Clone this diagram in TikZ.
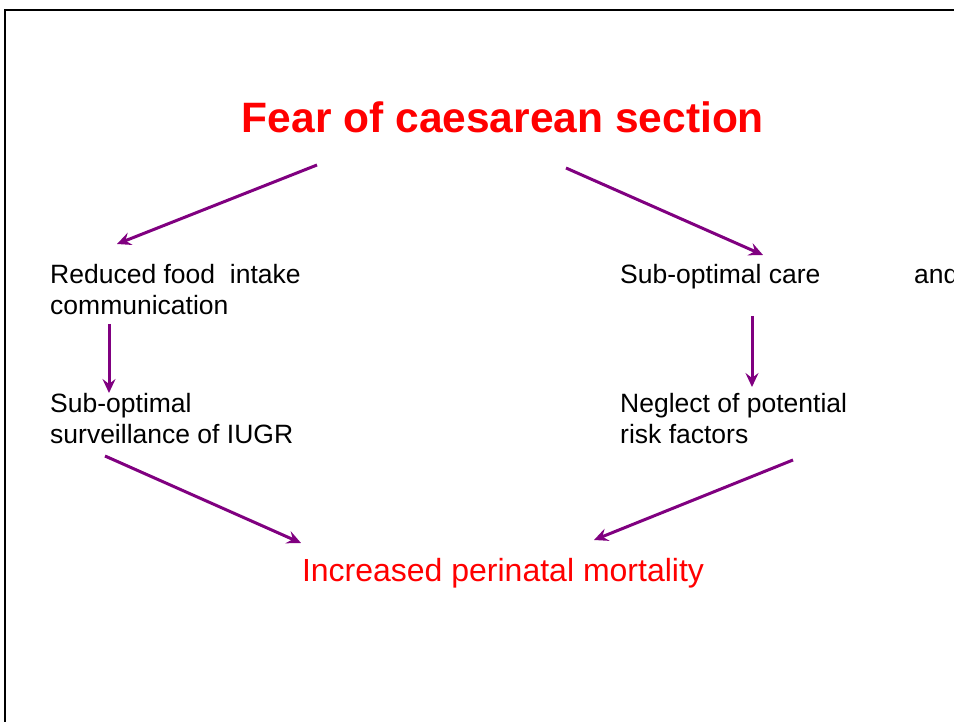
\documentclass[tikz,border=0pt]{standalone}
\usepackage{fontspec}
\setmainfont{Liberation Sans}
\usetikzlibrary{arrows.meta}
\definecolor{arrpurple}{HTML}{800080}
\definecolor{titlered}{HTML}{FF0000}
\begin{document}
\begin{tikzpicture}[x=1pt,y=-1pt,
  frameline/.style={draw=black,line width=1.8pt},
  bodytext/.style={inner sep=0pt,anchor=base west,font=\fontsize{26.5}{31}\selectfont,text=black},
  redtitle/.style={inner sep=0pt,anchor=base,font=\fontsize{42.5}{48}\selectfont\bfseries,text=titlered},
  redresult/.style={inner sep=0pt,anchor=base,font=\fontsize{32}{36}\selectfont,text=titlered},
  flow/.style={draw=arrpurple,line width=3pt,-{Stealth[length=14pt,width=13pt,inset=5pt]}}]
\useasboundingbox (0,0) rectangle (954,722);
\fill[white] (0,0) rectangle (954,722);
\draw[frameline] (954,10) -- (5,10) -- (5,722);
% texts
\node[redtitle] (title) at (503,133) {Fear of caesarean section};
\node[bodytext] (l1a) at (50,284) {Reduced food\ \ intake};
\node[bodytext] (l1b) at (50,315) {communication};
\node[bodytext] (l2a) at (50,412) {Sub-optimal};
\node[bodytext] (l2b) at (50,443) {surveillance of IUGR};
\node[bodytext] (r1a) at (620,284) {Sub-optimal care};
\node[bodytext] (r1c) at (914,284) {and};
\node[bodytext] (r2a) at (620,412) {Neglect of potential};
\node[bodytext] (r2b) at (620,443) {risk factors};
\node[redresult] (result) at (503,581) {Increased perinatal mortality};
% arrow end points
\coordinate (a1s) at (317,165); \coordinate (a1e) at (117,244);
\coordinate (a2s) at (566,168); \coordinate (a2e) at (763,255);
\coordinate (a3s) at (109,324); \coordinate (a3e) at (109,393);
\coordinate (a4s) at (752,316); \coordinate (a4e) at (752,387);
\coordinate (a5s) at (105,456); \coordinate (a5e) at (301,543);
\coordinate (a6s) at (793,460); \coordinate (a6e) at (594,540);
\draw[flow] (a1s) -- (a1e);
\draw[flow] (a2s) -- (a2e);
\draw[flow] (a3s) -- (a3e);
\draw[flow] (a4s) -- (a4e);
\draw[flow] (a5s) -- (a5e);
\draw[flow] (a6s) -- (a6e);
\end{tikzpicture}
\end{document}
